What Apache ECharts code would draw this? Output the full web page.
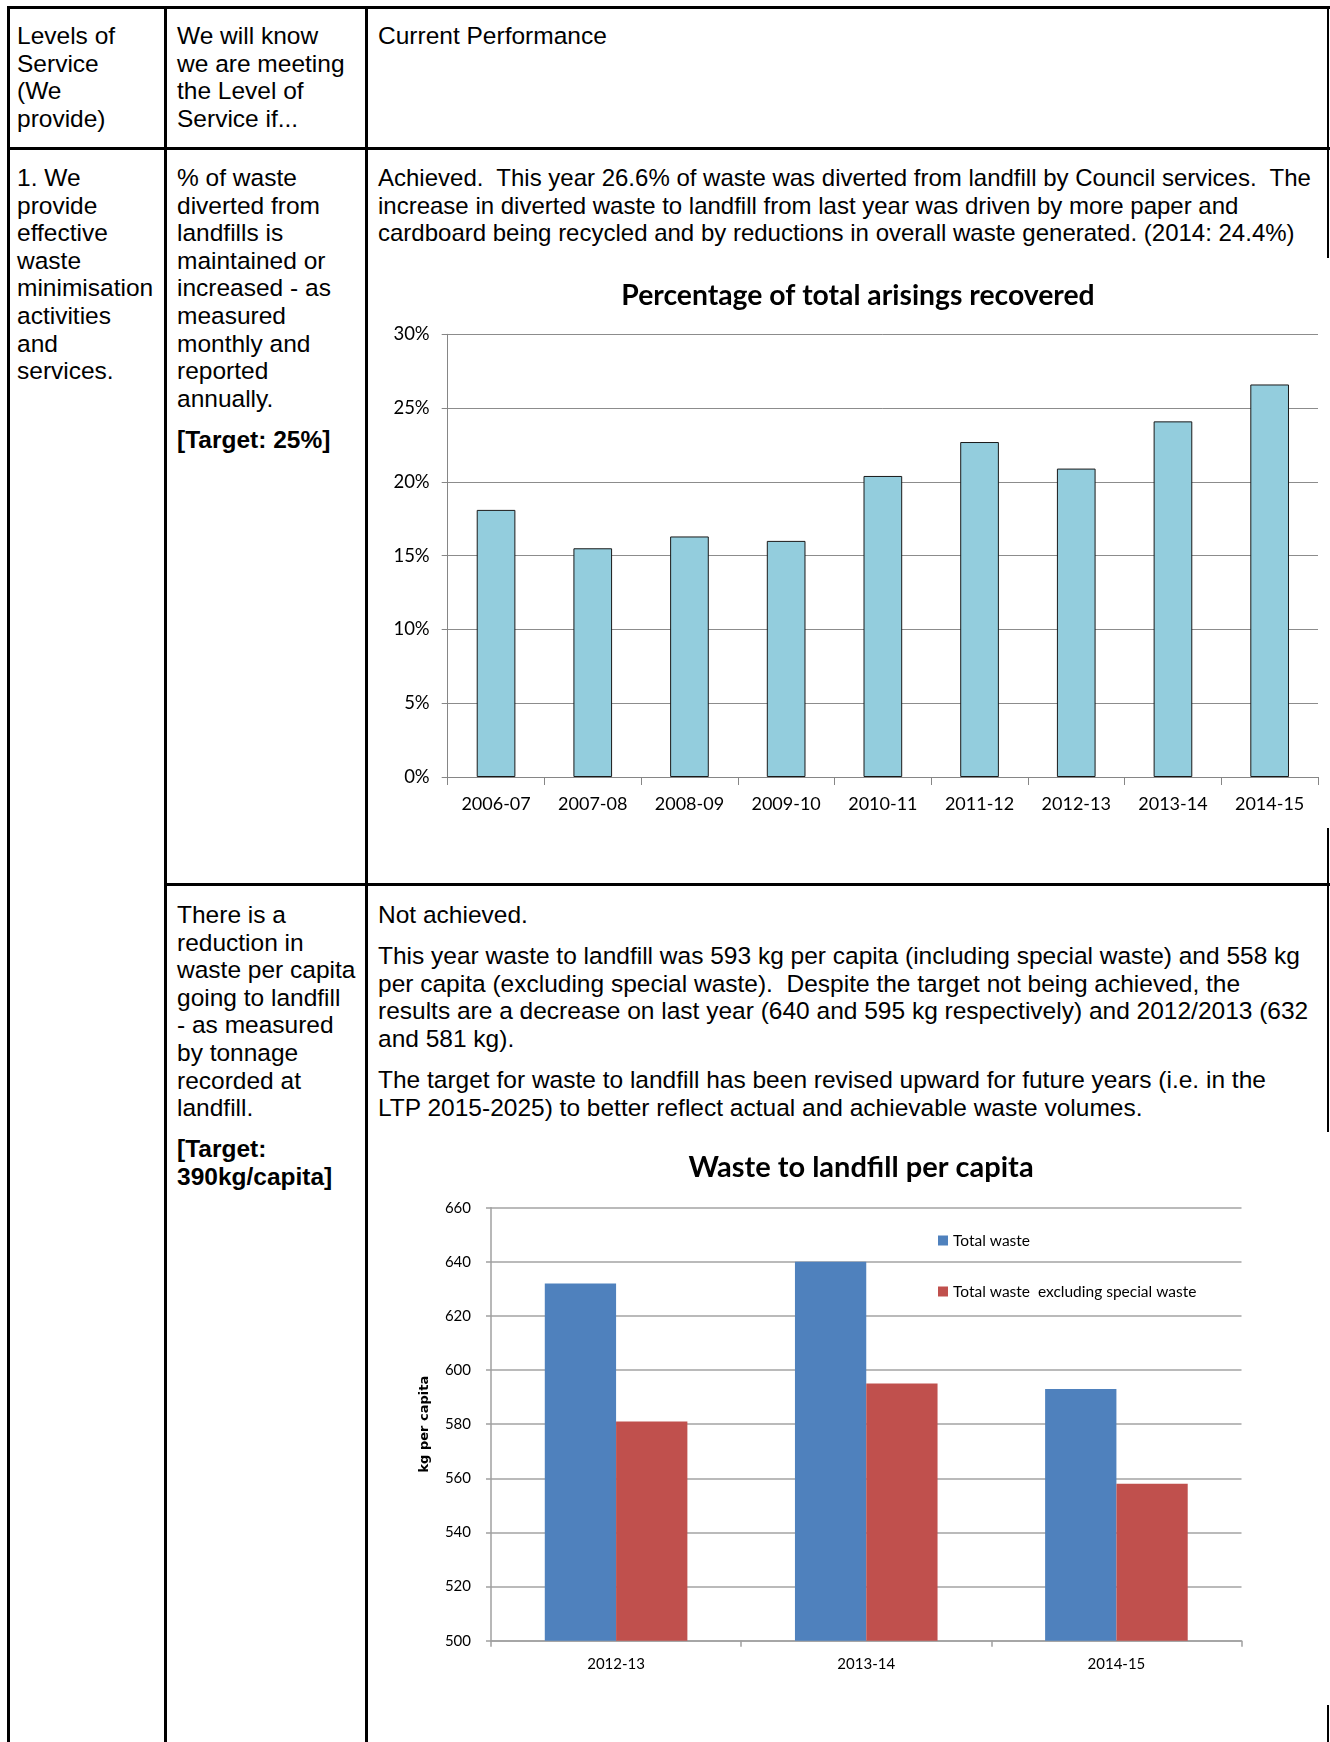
<!DOCTYPE html>
<html>
<head>
<meta charset="utf-8">
<script src="https://cdn.jsdelivr.net/npm/echarts@6/dist/echarts.min.js"></script>
<style>
  html, body { margin: 0; padding: 0; background: #fff; }
  #page { position: relative; width: 1330px; height: 1742px; overflow: hidden; background: #fff; }
  .ln { position: absolute; background: #000; }
  .cell { position: absolute; font-family: "Liberation Sans", Arial, sans-serif; font-size: 24.5px; line-height: 27.6px; color: #000; white-space: pre; }
  .cell p { margin: 0; }
  .cell p + p { margin-top: 13.5px; }
  .b { font-weight: bold; }
  .chart { position: absolute; }
</style>
</head>
<body>
<div id="page">
  <!-- table borders -->
  <div class="ln" style="left:7px;top:6px;width:1323px;height:3px"></div>
  <div class="ln" style="left:7px;top:147px;width:1323px;height:3px"></div>
  <div class="ln" style="left:164px;top:883px;width:1166px;height:3px"></div>
  <div class="ln" style="left:7px;top:6px;width:3px;height:1736px"></div>
  <div class="ln" style="left:164px;top:6px;width:3px;height:1736px"></div>
  <div class="ln" style="left:365px;top:6px;width:3px;height:1736px"></div>
  <div class="ln" style="left:1327px;top:6px;width:2px;height:252px"></div>
  <div class="ln" style="left:1327px;top:828px;width:2px;height:304px"></div>
  <div class="ln" style="left:1327px;top:1705px;width:2px;height:37px"></div>

  <!-- header row -->
  <div class="cell" style="left:17px;top:22px"><p>Levels of
Service
(We
provide)</p></div>
  <div class="cell" style="left:177px;top:22px"><p>We will know
we are meeting
the Level of
Service if...</p></div>
  <div class="cell" style="left:378px;top:22px"><p>Current Performance</p></div>

  <!-- row 1 -->
  <div class="cell" style="left:17px;top:164px"><p>1. We
provide
effective
waste
minimisation
activities
and
services.</p></div>
  <div class="cell" style="left:177px;top:164px"><p>% of waste
diverted from
landfills is
maintained or
increased - as
measured
monthly and
reported
annually.</p><p class="b">[Target: 25%]</p></div>
  <div class="cell" style="left:378px;top:164px;font-size:24px"><p>Achieved.  This year 26.6% of waste was diverted from landfill by Council services.  The
increase in diverted waste to landfill from last year was driven by more paper and
cardboard being recycled and by reductions in overall waste generated. (2014: 24.4%)</p></div>

  <!-- row 2 -->
  <div class="cell" style="left:177px;top:901px"><p>There is a
reduction in
waste per capita
going to landfill
- as measured
by tonnage
recorded at
landfill.</p><p class="b">[Target:
390kg/capita]</p></div>
  <div class="cell" style="left:378px;top:901px"><p>Not achieved.</p><p>This year waste to landfill was 593 kg per capita (including special waste) and 558 kg
per capita (excluding special waste).  Despite the target not being achieved, the
results are a decrease on last year (640 and 595 kg respectively) and 2012/2013 (632
and 581 kg).</p><p>The target for waste to landfill has been revised upward for future years (i.e. in the
LTP 2015-2025) to better reflect actual and achievable waste volumes.</p></div>

  <div id="c1" class="chart" style="left:370px;top:240px;width:956px;height:600px"></div>
  <div id="c2" class="chart" style="left:370px;top:1130px;width:956px;height:560px"></div>
</div>
<script>
// ---- Chart 1 data ----
const pctTitle = 'Percentage of total arisings recovered';
const pctCategories = ['2006-07','2007-08','2008-09','2009-10','2010-11','2011-12','2012-13','2013-14','2014-15'];
const pctValues = [18.1, 15.5, 16.3, 16.0, 20.4, 22.7, 20.9, 24.1, 26.6];
const pctTicks = [0, 5, 10, 15, 20, 25, 30];

// ---- Chart 2 data ----
const capTitle = 'Waste to landfill per capita';
const capCategories = ['2012-13','2013-14','2014-15'];
const capSeriesNames = ['Total waste', 'Total waste  excluding special waste'];
const totalWaste = [632, 640, 593];
const exclSpecialWaste = [581, 595, 558];
const capTicks = [500, 520, 540, 560, 580, 600, 620, 640, 660];

const chartFont = 'Lato, "Noto Sans", sans-serif';

const c1 = echarts.init(document.getElementById('c1'), null, {renderer: 'canvas'});
c1.setOption({
  animation: false,
  title: {
    text: pctTitle, left: 483, top: 34, textAlign: 'center',
    textStyle: {fontFamily: chartFont, fontWeight: 'bold', fontSize: 28.3, lineHeight: 34, color: '#000'}
  },
  grid: {left: 77.7, top: 94.3, width: 870.3, height: 442.7, containLabel: false},
  xAxis: {
    type: 'category', data: pctCategories, boundaryGap: true,
    axisLine: {lineStyle: {color: '#868686', width: 1}},
    axisTick: {show: true, length: 8, lineStyle: {color: '#868686'}},
    axisLabel: {margin: 18, fontFamily: chartFont, fontSize: 18, color: '#000', interval: 0}
  },
  yAxis: {
    type: 'value', min: pctTicks[0], max: pctTicks[pctTicks.length - 1], interval: pctTicks[1] - pctTicks[0],
    axisLine: {show: true, lineStyle: {color: '#868686', width: 1}},
    axisTick: {show: true, length: 6, lineStyle: {color: '#868686'}},
    splitLine: {lineStyle: {color: '#8c8c8c', width: 1}},
    axisLabel: {margin: 18, fontFamily: chartFont, fontSize: 18.5, color: '#000', formatter: '{value}%'}
  },
  series: [{
    type: 'bar', data: pctValues, barWidth: '40%',
    itemStyle: {color: '#93CDDD', borderColor: '#1a1a1a', borderWidth: 1}
  }]
});

const c2 = echarts.init(document.getElementById('c2'), null, {renderer: 'canvas'});
c2.setOption({
  animation: false,
  title: {
    text: capTitle, left: 486, top: 16, textAlign: 'center',
    textStyle: {fontFamily: chartFont, fontWeight: 'bold', fontSize: 29, lineHeight: 34, color: '#000'}
  },
  legend: {
    orient: 'vertical', left: 563, top: 97.5, itemWidth: 10, itemHeight: 10, itemGap: 35,
    icon: 'rect', data: capSeriesNames,
    textStyle: {fontFamily: chartFont, fontSize: 15.5, color: '#000'}
  },
  grid: {left: 121, top: 77.7, width: 750.5, height: 433, containLabel: false},
  xAxis: {
    type: 'category', data: capCategories, boundaryGap: true,
    axisLine: {lineStyle: {color: '#a0a0a0', width: 1.5}},
    axisTick: {show: true, length: 6, lineStyle: {color: '#a0a0a0', width: 1.5}},
    axisLabel: {margin: 16, fontFamily: chartFont, fontSize: 15, color: '#000'}
  },
  yAxis: {
    type: 'value', min: capTicks[0], max: capTicks[capTicks.length - 1], interval: capTicks[1] - capTicks[0],
    name: 'kg per capita', nameLocation: 'middle', nameRotate: 90, nameGap: 60,
    nameTextStyle: {fontFamily: '"DejaVu Sans", sans-serif', fontWeight: 'bold', fontSize: 13, color: '#000'},
    axisLine: {show: true, lineStyle: {color: '#a0a0a0', width: 1.5}},
    axisTick: {show: true, length: 5, lineStyle: {color: '#a0a0a0', width: 1.5}},
    splitLine: {lineStyle: {color: '#a3a3a3', width: 1.5}},
    axisLabel: {margin: 20, fontFamily: chartFont, fontSize: 15, color: '#000'}
  },
  series: [
    {name: capSeriesNames[0], type: 'bar', data: totalWaste, barGap: '0%', barCategoryGap: '43%',
     itemStyle: {color: '#4F81BD'}},
    {name: capSeriesNames[1], type: 'bar', data: exclSpecialWaste, barGap: '0%', barCategoryGap: '43%',
     itemStyle: {color: '#C0504D'}}
  ]
});
</script>
</body>
</html>
